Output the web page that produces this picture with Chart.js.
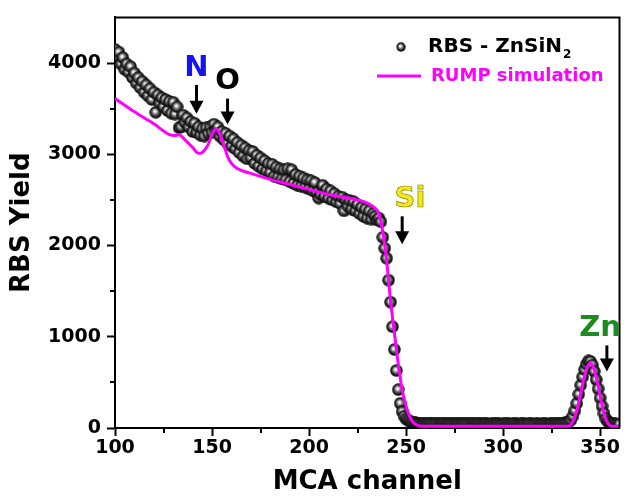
<!DOCTYPE html>
<html>
<head>
<meta charset="utf-8">
<script src="https://cdn.jsdelivr.net/npm/chart.js@4.4.1/dist/chart.umd.min.js"></script>
<style>
  html, body { margin: 0; padding: 0; background: #fff; }
  canvas { display: block; }
</style>
</head>
<body>
<canvas id="rbsChart" width="627" height="500"></canvas>
<script>
// measured spectrum, one value per MCA channel starting at channel 100
const expFirstChannel = 100;
const expYield = [
  4150, 4080, 4120, 3990, 4060, 3930, 3990, 3900, 3960, 3840,
  3890, 3780, 3840, 3730, 3800, 3680, 3760, 3640, 3720, 3600,
  3680, 3460, 3650, 3560, 3620, 3520, 3600, 3480, 3580, 3450,
  3570, 3440, 3520, 3290, 3300, 3430, 3350, 3400, 3300, 3360,
  3250, 3340, 3240, 3300, 3210, 3280, 3200, 3290, 3230, 3300,
  3240, 3330, 3260, 3300, 3200, 3250, 3160, 3230, 3120, 3200,
  3090, 3170, 3060, 3130, 3020, 3100, 2980, 3070, 2950, 3040,
  2960, 3030, 2900, 2990, 2870, 2960, 2840, 2930, 2820, 2900,
  2800, 2890, 2760, 2860, 2750, 2840, 2730, 2830, 2720, 2840,
  2700, 2830, 2680, 2780, 2660, 2760, 2650, 2740, 2640, 2720,
  2620, 2710, 2600, 2690, 2580, 2520, 2560, 2660, 2540, 2620,
  2520, 2600, 2500, 2570, 2480, 2540, 2460, 2530, 2380, 2500,
  2430, 2490, 2400, 2480, 2380, 2450, 2350, 2420, 2320, 2400,
  2300, 2380, 2290, 2350, 2320, 2280, 2300, 2260, 2090, 1970,
  1860, 1620, 1380, 1110, 860, 630, 420, 270, 180, 130,
  100, 85, 75, 65, 60, 55, 52, 50, 48, 50,
  46, 49, 52, 47, 45, 50, 48, 44, 47, 51,
  48, 45, 47, 50, 46, 44, 49, 47, 45, 48,
  46, 50, 47, 44, 46, 48, 45, 47, 49, 44,
  46, 48, 45, 43, 47, 46, 44, 48, 45, 43,
  45, 47, 44, 46, 43, 45, 47, 44, 42, 46,
  44, 46, 43, 45, 47, 44, 42, 45, 46, 43,
  45, 44, 46, 43, 45, 47, 44, 46, 45, 48,
  50, 52, 55, 60, 70, 90, 130, 190, 270, 370,
  470, 560, 640, 700, 735, 730, 690, 620, 530, 430,
  330, 240, 160, 100, 70, 55, 48, 45, 44, 43,
  42
];

// RUMP simulation curve
const simChannel = [100, 110, 120, 128, 131, 133, 136, 140, 143, 145, 148, 150, 152, 154, 156, 158,
  160, 163, 170, 180, 190, 200, 210, 220, 230, 234, 236, 238, 240, 242, 244, 246, 248, 250,
  252, 254, 256, 258, 262, 300, 332, 334, 336, 338, 340, 342, 344, 345, 346, 348, 350, 352,
  354, 356, 360];
const simYield = [3610, 3465, 3335, 3215, 3205, 3215, 3160, 3075, 3010, 3020, 3105, 3215, 3280, 3225, 3105, 2975,
  2900, 2845, 2790, 2725, 2670, 2615, 2560, 2520, 2465, 2410, 2345, 2150, 1830, 1395, 1040, 700, 420, 240,
  120, 55, 28, 20, 18, 18, 18, 22, 70, 190, 380, 570, 690, 710, 690, 560, 350, 160,
  50, 20, 18];

const xTicks = [100, 150, 200, 250, 300, 350];
const xMinor = [125, 175, 225, 275, 325];
const yTicks = [0, 1000, 2000, 3000, 4000];
const yMinor = [500, 1500, 2500, 3500];

// element edges marked on the spectrum
const edges = [
  { text: "N", color: "#1414f0", tx: 142, ty: 3935, ax: 142, from: 3760, to: 3445 },
  { text: "O", color: "#000000", tx: 158, ty: 3795, ax: 158, from: 3610, to: 3325 },
  { text: "Si", color: "#f2e81a", tx: 252, ty: 2510, ax: 248, from: 2320, to: 2015 },
  { text: "Zn", color: "#1f8a1f", tx: 350, ty: 1090, ax: 353.5, from: 905, to: 620 }
];

const FONT = '"DejaVu Sans", sans-serif';

function makeSphere(d) {
  const c = document.createElement("canvas");
  c.width = d; c.height = d;
  const g = c.getContext("2d");
  const r = d / 2;
  const grad = g.createRadialGradient(r * 0.85, r * 0.8, 0, r, r, r);
  grad.addColorStop(0, "#ffffff");
  grad.addColorStop(0.2, "#e0e0e0");
  grad.addColorStop(0.45, "#707070");
  grad.addColorStop(0.72, "#222222");
  grad.addColorStop(1, "#000000");
  g.fillStyle = grad;
  g.beginPath();
  g.arc(r, r, r - 0.3, 0, Math.PI * 2);
  g.fill();
  return c;
}
const sphere = makeSphere(13);
const legendSphere = makeSphere(10);

const decorations = {
  id: "decorations",
  afterDraw(chart) {
    const { ctx, chartArea: a, scales: { x, y } } = chart;
    ctx.save();
    ctx.strokeStyle = "#000";
    ctx.lineWidth = 2;
    // top and right of the frame
    ctx.beginPath();
    ctx.moveTo(a.left, a.top);
    ctx.lineTo(a.right, a.top);
    ctx.lineTo(a.right, a.bottom);
    ctx.stroke();
    // minor ticks
    ctx.beginPath();
    xMinor.forEach(v => {
      const px = Math.round(x.getPixelForValue(v));
      ctx.moveTo(px, a.bottom);
      ctx.lineTo(px, a.bottom + 5);
    });
    yMinor.forEach(v => {
      const py = Math.round(y.getPixelForValue(v));
      ctx.moveTo(a.left - 5, py);
      ctx.lineTo(a.left, py);
    });
    ctx.stroke();

    // legend
    ctx.drawImage(legendSphere, 401 - 5, 47 - 5);
    ctx.textBaseline = "middle";
    ctx.textAlign = "left";
    ctx.fillStyle = "#000";
    ctx.font = "bold 20px " + FONT;
    ctx.fillText("RBS - ZnSiN", 428, 47);
    const w = ctx.measureText("RBS - ZnSiN").width;
    ctx.font = "bold 12px " + FONT;
    ctx.fillText("2", 428 + w + 1, 55);
    ctx.strokeStyle = "#ff00ff";
    ctx.lineWidth = 3;
    ctx.beginPath();
    ctx.moveTo(377, 76);
    ctx.lineTo(421, 76);
    ctx.stroke();
    ctx.fillStyle = "#ff00ff";
    ctx.font = "bold 18px " + FONT;
    ctx.fillText("RUMP simulation", 431, 76);

    // element labels with arrows
    edges.forEach(e => {
      const tx = x.getPixelForValue(e.tx), ty = y.getPixelForValue(e.ty);
      ctx.font = "bold 29px " + FONT;
      ctx.textAlign = "center";
      ctx.fillStyle = e.color;
      ctx.fillText(e.text, tx, ty);
      if (e.text === "Si") {
        ctx.lineWidth = 0.7;
        ctx.strokeStyle = "#8a8400";
        ctx.strokeText(e.text, tx, ty);
      }
      const ax = x.getPixelForValue(e.ax);
      const y0 = y.getPixelForValue(e.from), y1 = y.getPixelForValue(e.to);
      ctx.strokeStyle = "#000";
      ctx.lineWidth = 3;
      ctx.beginPath();
      ctx.moveTo(ax, y0);
      ctx.lineTo(ax, y1 - 10);
      ctx.stroke();
      ctx.fillStyle = "#000";
      ctx.beginPath();
      ctx.moveTo(ax - 7, y1 - 13);
      ctx.lineTo(ax + 7, y1 - 13);
      ctx.lineTo(ax, y1);
      ctx.closePath();
      ctx.fill();
    });
    ctx.restore();
  }
};

const tickFont = { family: FONT, size: 19, weight: "bold" };
const titleFont = { family: FONT, size: 26, weight: "bold" };

new Chart(document.getElementById("rbsChart"), {
  type: "scatter",
  data: {
    datasets: [
      {
        type: "line",
        label: "RUMP simulation",
        data: simChannel.map((c, i) => ({ x: c, y: simYield[i] })),
        borderColor: "#ff00ff",
        borderWidth: 3,
        pointRadius: 0,
        cubicInterpolationMode: "monotone",
        fill: false,
        order: 0
      },
      {
        label: "RBS - ZnSiN2",
        data: expYield.map((v, i) => ({ x: expFirstChannel + i, y: v })),
        pointStyle: sphere,
        pointRadius: 6.5,
        order: 1
      }
    ]
  },
  options: {
    responsive: false,
    animation: false,
    layout: { padding: { top: 15, right: 2, left: 0, bottom: 0 } },
    plugins: { legend: { display: false }, tooltip: { enabled: false } },
    scales: {
      x: {
        type: "linear",
        min: 100,
        max: 360,
        afterBuildTicks: s => { s.ticks = xTicks.map(v => ({ value: v })); },
        afterFit: s => { s.height = 72; },
        ticks: { font: tickFont, color: "#000", padding: 1, maxRotation: 0, autoSkip: false, callback: v => String(v) },
        grid: { drawOnChartArea: false, tickLength: 8, tickWidth: 2, tickColor: "#000" },
        border: { color: "#000", width: 2 },
        title: { display: true, text: "MCA channel", font: titleFont, color: "#000", padding: { top: 0, bottom: 2 } }
      },
      y: {
        type: "linear",
        min: 0,
        max: 4500,
        afterBuildTicks: s => { s.ticks = yTicks.map(v => ({ value: v })); },
        afterFit: s => { s.width = 115; },
        ticks: { font: tickFont, color: "#000", padding: 6, callback: v => String(v) },
        grid: { drawOnChartArea: false, tickLength: 8, tickWidth: 2, tickColor: "#000" },
        border: { color: "#000", width: 2 },
        title: { display: true, text: "RBS Yield", font: titleFont, color: "#000", padding: { top: 7, bottom: 0 } }
      }
    }
  },
  plugins: [decorations]
});
</script>
</body>
</html>
